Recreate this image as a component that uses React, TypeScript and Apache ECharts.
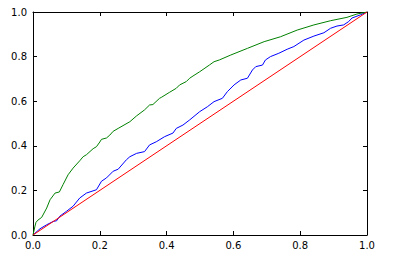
import React, { useEffect, useRef } from "react";
import * as echarts from "echarts";

const tickValues = [0, 0.2, 0.4, 0.6, 0.8, 1.0];

const redFpr = [0, 1];
const redTpr = [0, 1];

const greenFpr = [0, 0.006, 0.009, 0.015, 0.026, 0.041, 0.051, 0.066, 0.079, 0.09, 0.105, 0.12, 0.14, 0.15, 0.16, 0.18, 0.19, 0.2, 0.205, 0.22, 0.23, 0.24, 0.255, 0.29, 0.31, 0.334, 0.349, 0.359, 0.379, 0.384, 0.409, 0.429, 0.439, 0.459, 0.469, 0.479, 0.499, 0.528, 0.542, 0.558, 0.592, 0.642, 0.692, 0.741, 0.791, 0.841, 0.891, 0.94, 0.97, 1];
const greenTpr = [0, 0.04, 0.057, 0.067, 0.079, 0.121, 0.158, 0.188, 0.193, 0.226, 0.27, 0.3, 0.333, 0.351, 0.36, 0.387, 0.396, 0.417, 0.429, 0.435, 0.448, 0.465, 0.478, 0.508, 0.534, 0.561, 0.583, 0.585, 0.613, 0.617, 0.64, 0.658, 0.673, 0.688, 0.703, 0.713, 0.732, 0.762, 0.777, 0.785, 0.807, 0.837, 0.867, 0.889, 0.919, 0.942, 0.961, 0.976, 0.991, 1];

const blueFpr = [0, 0.021, 0.041, 0.061, 0.071, 0.08, 0.1, 0.12, 0.14, 0.16, 0.19, 0.205, 0.22, 0.24, 0.255, 0.28, 0.29, 0.31, 0.334, 0.349, 0.369, 0.394, 0.419, 0.429, 0.449, 0.469, 0.499, 0.522, 0.542, 0.567, 0.582, 0.602, 0.622, 0.642, 0.657, 0.667, 0.687, 0.696, 0.711, 0.736, 0.761, 0.781, 0.811, 0.841, 0.871, 0.891, 0.91, 0.93, 0.945, 0.955, 0.98, 1];
const blueTpr = [0, 0.028, 0.046, 0.061, 0.064, 0.084, 0.106, 0.129, 0.166, 0.188, 0.203, 0.241, 0.256, 0.286, 0.295, 0.338, 0.351, 0.366, 0.374, 0.404, 0.418, 0.441, 0.457, 0.478, 0.493, 0.516, 0.553, 0.575, 0.598, 0.613, 0.643, 0.673, 0.695, 0.703, 0.74, 0.755, 0.762, 0.785, 0.8, 0.815, 0.833, 0.845, 0.874, 0.892, 0.907, 0.927, 0.937, 0.942, 0.957, 0.973, 0.987, 1];

const zip = (xs: number[], ys: number[]) => xs.map((x, i) => [x, ys[i]]);

export default function App() {
  const ref = useRef<HTMLDivElement>(null);
  useEffect(() => {
    if (!ref.current) return;
    const chart = echarts.init(ref.current, undefined, { renderer: "svg" });
    const fmt = (v: number) => v.toFixed(1);
    const baseAxis = (show: boolean) => ({
      type: "value" as const,
      min: 0,
      max: 1,
      interval: 0.2,
      axisLine: { show: true, onZero: false, lineStyle: { color: "#000", width: 1 } },
      axisTick: { show: true, inside: true, length: 4, lineStyle: { color: "#000", width: 1 } },
      splitLine: { show: false },
      axisLabel: {
        show,
        formatter: fmt,
        color: "#000",
        fontFamily: "DejaVu Sans",
        fontSize: 10,
      },
    });
    chart.setOption({
      animation: false,
      backgroundColor: "#fff",
      grid: { left: 33, top: 12, right: 31, bottom: 23, containLabel: false },
      xAxis: [
        { ...baseAxis(true), position: "bottom", axisLabel: { ...baseAxis(true).axisLabel, margin: 5 } },
        { ...baseAxis(false), position: "top" },
      ],
      yAxis: [
        { ...baseAxis(true), position: "left", axisLabel: { ...baseAxis(true).axisLabel, margin: 6 } },
        { ...baseAxis(false), position: "right" },
      ],
      series: [
        {
          type: "line",
          data: zip(blueFpr, blueTpr),
          symbol: "none",
          lineStyle: { color: "#0000ff", width: 1 },
        },
        {
          type: "line",
          data: zip(greenFpr, greenTpr),
          symbol: "none",
          lineStyle: { color: "#008000", width: 1 },
        },
        {
          type: "line",
          data: zip(redFpr, redTpr),
          symbol: "none",
          lineStyle: { color: "#ff0000", width: 1 },
        },
      ],
    });
    return () => chart.dispose();
  }, []);
  return (
    <div
      ref={ref}
      style={{ position: "fixed", left: 0, top: 0, width: 398, height: 258 }}
    />
  );
}
